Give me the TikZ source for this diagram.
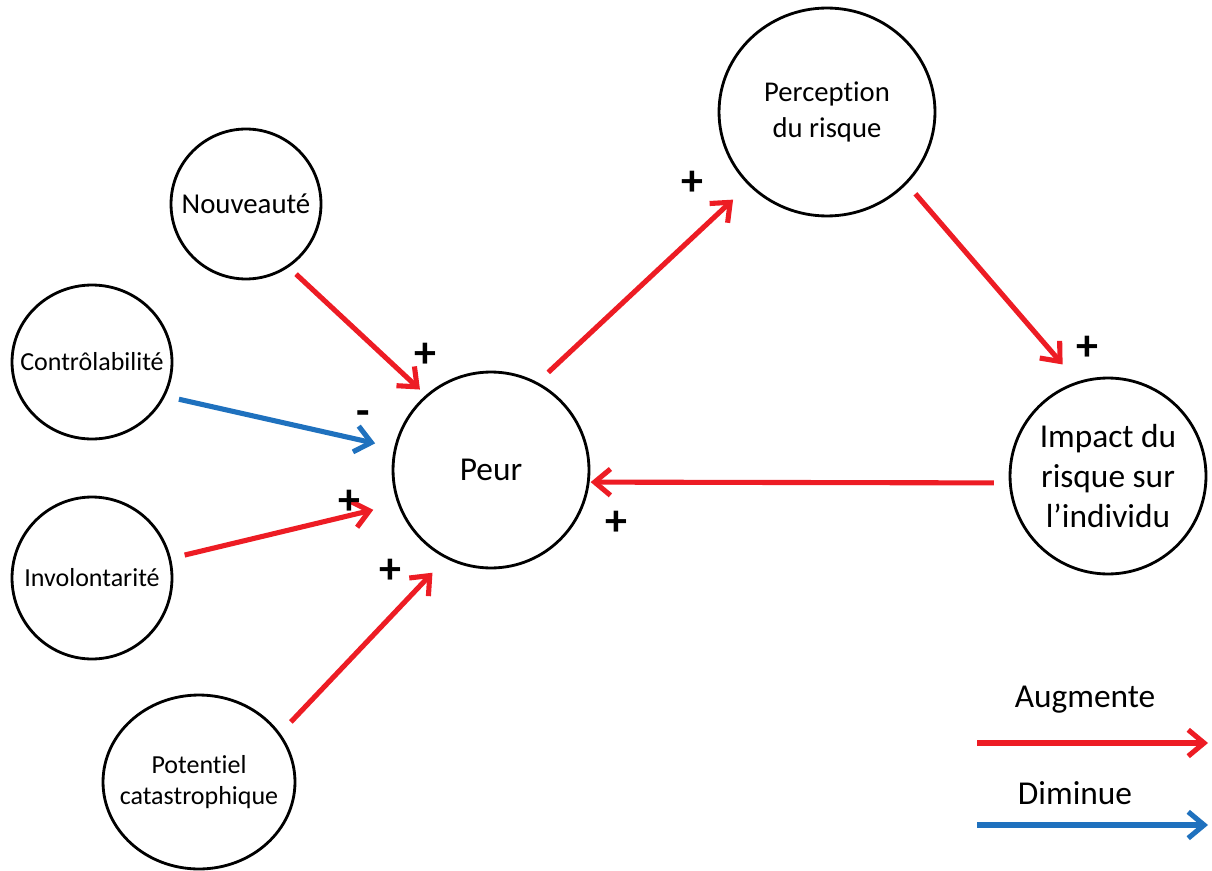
\documentclass[tikz,border=0pt]{standalone}
\usepackage{fontspec}
\setmainfont{Carlito}[Ligatures=NoCommon]
\usetikzlibrary{arrows.meta,shapes.geometric}
\definecolor{augred}{RGB}{237,28,36}
\definecolor{dimblue}{RGB}{31,113,190}
\begin{document}
\begin{tikzpicture}[x=0.02cm,y=-0.02cm,
  bubble/.style={draw=black,line width=1.6pt,ellipse,inner sep=0pt},
  txt/.style={align=center,inner sep=0pt},
  small/.style={font=\fontsize{14.8}{17.6}\selectfont},
  mid/.style={font=\fontsize{16.3}{21}\selectfont},
  big/.style={font=\fontsize{19}{23}\selectfont},
  sign/.style={font=\fontsize{25}{25}\selectfont\bfseries,inner sep=0pt},
  conn/.style={line width=2.9pt,-{Straight Barb[length=9pt,width=15pt]}},
  up/.style={conn,draw=augred},
  down/.style={conn,draw=dimblue}]
\useasboundingbox (0,0) rectangle (1212,871);

% factor bubbles
\node[bubble,minimum width=3.0cm,minimum height=3.0cm,
  label={[txt,font=\fontsize{16.4}{20}\selectfont]center:Nouveauté}] (nouv) at (246,204) {};
\node[bubble,minimum width=3.2cm,minimum height=3.08cm,
  label={[txt,small]center:Contrôlabilité}] (ctrl) at (92,362) {};
\node[bubble,minimum width=3.2cm,minimum height=3.24cm,
  label={[txt,small]center:Involontarité}] (invol) at (92,578) {};
\node[bubble,minimum width=3.84cm,minimum height=3.48cm,
  label={[txt,small]center:Potentiel\\catastrophique}] (pot) at (199,782) {};

% main bubbles
\node[bubble,minimum width=3.92cm,minimum height=3.92cm,
  label={[txt,big]center:Peur}] (peur) at (491,470) {};
\node[bubble,minimum width=4.32cm,minimum height=4.16cm,
  label={[txt,mid]center:Perception\\du risque}] (perc) at (827,112) {};
\node[bubble,minimum width=3.92cm,minimum height=3.92cm,
  label={[txt,big]center:Impact du\\risque sur\\l’individu}] (imp) at (1108,476) {};

% connectors
\draw[up,shorten <=2mm,shorten >=1.6mm] (nouv.-56.5) -- (peur.131);
\draw[down,shorten <=2.8mm,shorten >=3.9mm] (ctrl.-25) -- (peur.167.7);
\draw[up,shorten <=2.8mm,shorten >=5mm] (invol.14.2) -- (peur.200.5);
\draw[up,shorten <=3.1mm,shorten >=3.9mm] (pot.31.5) -- (peur.243.2);
\draw[up,shorten <=2.9mm,shorten >=4.2mm] (peur.62.5) -- (perc.223.7);
\draw[up,shorten <=2.6mm,shorten >=4.5mm] (perc.-42.3) -- (imp.108.9);
\draw[up,shorten <=3mm,shorten >=0.2mm] (imp.184.2) -- (peur.-7.6);

% signs
\node[sign] (s1) at (425,355) {+};
\node[sign] (s2) at (363,418) {-};
\node[sign] (s3) at (349,502) {+};
\node[sign] (s4) at (390,571) {+};
\node[sign] (s5) at (692,183) {+};
\node[sign] (s6) at (1087,348) {+};
\node[sign] (s7) at (616,523) {+};

% legend
\node[txt,big] (lau) at (1085,700) {Augmente};
\node[txt,big] (ldi) at (1075,793) {Diminue};
\coordinate (a1) at (977,743);
\coordinate (a2) at (1208,743);
\coordinate (b1) at (977,825);
\coordinate (b2) at (1208,825);
\draw[up] (a1) -- (a2);
\draw[down] (b1) -- (b2);
\end{tikzpicture}
\end{document}
